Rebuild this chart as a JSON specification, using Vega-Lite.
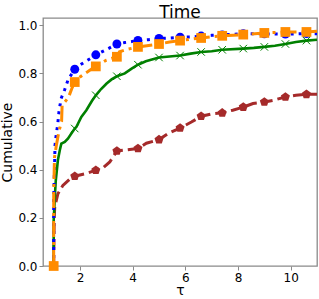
{
  "$schema": "https://vega.github.io/schema/vega-lite/v6.json",
  "width": 274,
  "height": 248,
  "autosize": {"type": "none"},
  "padding": {"left": 43, "top": 18, "right": 2, "bottom": 33},
  "background": "white",
  "config": {
    "view": {"stroke": "#8a8a8a", "strokeWidth": 1.3},
    "font": "DejaVu Sans",
    "axis": {
      "grid": false,
      "domain": false,
      "tickColor": "#8a8a8a",
      "tickSize": 4,
      "tickWidth": 1,
      "labelFont": "DejaVu Sans",
      "labelFontSize": 12,
      "labelColor": "#000000",
      "labelPadding": 2,
      "titleFont": "DejaVu Sans",
      "titleFontSize": 14,
      "titleFontWeight": "normal",
      "titleColor": "#000000"
    },
    "title": {"font": "DejaVu Sans", "fontSize": 17, "fontWeight": "normal", "color": "#000000", "offset": 4, "frame": "group", "baseline": "alphabetic", "dy": 7.5}
  },
  "title": "Time",
  "datasets": {
    "curves": [
      {"series": "blue", "tau": 1.0, "value": 0.0},
      {"series": "blue", "tau": 1.0, "value": 0.28},
      {"series": "blue", "tau": 1.03, "value": 0.4},
      {"series": "blue", "tau": 1.05, "value": 0.5},
      {"series": "blue", "tau": 1.1, "value": 0.55},
      {"series": "blue", "tau": 1.15, "value": 0.585},
      {"series": "blue", "tau": 1.2, "value": 0.64},
      {"series": "blue", "tau": 1.28, "value": 0.695},
      {"series": "blue", "tau": 1.41, "value": 0.73},
      {"series": "blue", "tau": 1.56, "value": 0.778},
      {"series": "blue", "tau": 1.7, "value": 0.8},
      {"series": "blue", "tau": 1.8, "value": 0.817},
      {"series": "blue", "tau": 2.0, "value": 0.835},
      {"series": "blue", "tau": 2.19, "value": 0.848},
      {"series": "blue", "tau": 2.4, "value": 0.862},
      {"series": "blue", "tau": 2.6, "value": 0.877},
      {"series": "blue", "tau": 2.95, "value": 0.896},
      {"series": "blue", "tau": 3.2, "value": 0.91},
      {"series": "blue", "tau": 3.4, "value": 0.922},
      {"series": "blue", "tau": 3.7, "value": 0.928},
      {"series": "blue", "tau": 3.96, "value": 0.932},
      {"series": "blue", "tau": 4.2, "value": 0.937},
      {"series": "blue", "tau": 4.6, "value": 0.94},
      {"series": "blue", "tau": 5.0, "value": 0.945},
      {"series": "blue", "tau": 5.4, "value": 0.947},
      {"series": "blue", "tau": 5.8, "value": 0.95},
      {"series": "blue", "tau": 6.3, "value": 0.952},
      {"series": "blue", "tau": 6.6, "value": 0.955},
      {"series": "blue", "tau": 7.0, "value": 0.958},
      {"series": "blue", "tau": 7.4, "value": 0.96},
      {"series": "blue", "tau": 8.2, "value": 0.965},
      {"series": "blue", "tau": 9.0, "value": 0.964},
      {"series": "blue", "tau": 9.8, "value": 0.963},
      {"series": "blue", "tau": 10.6, "value": 0.965},
      {"series": "blue", "tau": 11.0, "value": 0.965},

      {"series": "orange", "tau": 1.0, "value": 0.0},
      {"series": "orange", "tau": 1.0, "value": 0.3},
      {"series": "orange", "tau": 1.03, "value": 0.45},
      {"series": "orange", "tau": 1.1, "value": 0.5},
      {"series": "orange", "tau": 1.2, "value": 0.56},
      {"series": "orange", "tau": 1.3, "value": 0.6},
      {"series": "orange", "tau": 1.32, "value": 0.667},
      {"series": "orange", "tau": 1.56, "value": 0.7},
      {"series": "orange", "tau": 1.7, "value": 0.74},
      {"series": "orange", "tau": 1.8, "value": 0.764},
      {"series": "orange", "tau": 2.0, "value": 0.785},
      {"series": "orange", "tau": 2.19, "value": 0.8},
      {"series": "orange", "tau": 2.4, "value": 0.815},
      {"series": "orange", "tau": 2.6, "value": 0.829},
      {"series": "orange", "tau": 3.0, "value": 0.855},
      {"series": "orange", "tau": 3.4, "value": 0.869},
      {"series": "orange", "tau": 3.5, "value": 0.89},
      {"series": "orange", "tau": 3.8, "value": 0.9},
      {"series": "orange", "tau": 4.2, "value": 0.91},
      {"series": "orange", "tau": 5.0, "value": 0.922},
      {"series": "orange", "tau": 5.4, "value": 0.93},
      {"series": "orange", "tau": 5.8, "value": 0.936},
      {"series": "orange", "tau": 6.2, "value": 0.942},
      {"series": "orange", "tau": 6.6, "value": 0.947},
      {"series": "orange", "tau": 7.4, "value": 0.956},
      {"series": "orange", "tau": 8.2, "value": 0.961},
      {"series": "orange", "tau": 9.0, "value": 0.968},
      {"series": "orange", "tau": 9.8, "value": 0.972},
      {"series": "orange", "tau": 10.6, "value": 0.972},
      {"series": "orange", "tau": 11.0, "value": 0.975},

      {"series": "green", "tau": 1.0, "value": 0.0},
      {"series": "green", "tau": 1.0, "value": 0.19},
      {"series": "green", "tau": 1.05, "value": 0.3},
      {"series": "green", "tau": 1.08, "value": 0.356},
      {"series": "green", "tau": 1.16, "value": 0.44},
      {"series": "green", "tau": 1.23, "value": 0.48},
      {"series": "green", "tau": 1.29, "value": 0.508},
      {"series": "green", "tau": 1.42, "value": 0.515},
      {"series": "green", "tau": 1.54, "value": 0.529},
      {"series": "green", "tau": 1.67, "value": 0.55},
      {"series": "green", "tau": 1.8, "value": 0.571},
      {"series": "green", "tau": 1.86, "value": 0.577},
      {"series": "green", "tau": 2.05, "value": 0.619},
      {"series": "green", "tau": 2.24, "value": 0.647},
      {"series": "green", "tau": 2.45, "value": 0.685},
      {"series": "green", "tau": 2.6, "value": 0.709},
      {"series": "green", "tau": 2.8, "value": 0.735},
      {"series": "green", "tau": 3.01, "value": 0.758},
      {"series": "green", "tau": 3.2, "value": 0.775},
      {"series": "green", "tau": 3.4, "value": 0.788},
      {"series": "green", "tau": 3.7, "value": 0.8},
      {"series": "green", "tau": 3.96, "value": 0.82},
      {"series": "green", "tau": 4.2, "value": 0.836},
      {"series": "green", "tau": 4.5, "value": 0.85},
      {"series": "green", "tau": 5.0, "value": 0.866},
      {"series": "green", "tau": 5.4, "value": 0.87},
      {"series": "green", "tau": 5.8, "value": 0.874},
      {"series": "green", "tau": 6.2, "value": 0.882},
      {"series": "green", "tau": 6.6, "value": 0.889},
      {"series": "green", "tau": 7.0, "value": 0.892},
      {"series": "green", "tau": 7.4, "value": 0.898},
      {"series": "green", "tau": 8.2, "value": 0.903},
      {"series": "green", "tau": 8.6, "value": 0.906},
      {"series": "green", "tau": 9.0, "value": 0.91},
      {"series": "green", "tau": 9.4, "value": 0.915},
      {"series": "green", "tau": 9.8, "value": 0.922},
      {"series": "green", "tau": 10.2, "value": 0.93},
      {"series": "green", "tau": 10.6, "value": 0.936},
      {"series": "green", "tau": 11.0, "value": 0.94},

      {"series": "brown", "tau": 1.0, "value": 0.0},
      {"series": "brown", "tau": 1.02, "value": 0.2},
      {"series": "brown", "tau": 1.04, "value": 0.245},
      {"series": "brown", "tau": 1.16, "value": 0.3},
      {"series": "brown", "tau": 1.35, "value": 0.335},
      {"series": "brown", "tau": 1.6, "value": 0.36},
      {"series": "brown", "tau": 1.8, "value": 0.373},
      {"series": "brown", "tau": 2.24, "value": 0.384},
      {"series": "brown", "tau": 2.6, "value": 0.398},
      {"series": "brown", "tau": 2.9, "value": 0.41},
      {"series": "brown", "tau": 3.13, "value": 0.432},
      {"series": "brown", "tau": 3.4, "value": 0.478},
      {"series": "brown", "tau": 3.89, "value": 0.484},
      {"series": "brown", "tau": 4.2, "value": 0.488},
      {"series": "brown", "tau": 4.52, "value": 0.51},
      {"series": "brown", "tau": 5.0, "value": 0.525},
      {"series": "brown", "tau": 5.34, "value": 0.55},
      {"series": "brown", "tau": 5.8, "value": 0.573},
      {"series": "brown", "tau": 6.23, "value": 0.598},
      {"series": "brown", "tau": 6.6, "value": 0.622},
      {"series": "brown", "tau": 7.05, "value": 0.633},
      {"series": "brown", "tau": 7.4, "value": 0.636},
      {"series": "brown", "tau": 7.8, "value": 0.647},
      {"series": "brown", "tau": 8.2, "value": 0.66},
      {"series": "brown", "tau": 8.57, "value": 0.675},
      {"series": "brown", "tau": 9.0, "value": 0.681},
      {"series": "brown", "tau": 9.33, "value": 0.688},
      {"series": "brown", "tau": 9.8, "value": 0.702},
      {"series": "brown", "tau": 10.2, "value": 0.709},
      {"series": "brown", "tau": 10.6, "value": 0.713},
      {"series": "brown", "tau": 11.0, "value": 0.713}
    ],
    "markers": [
      {"series": "blue", "tau": 1.8, "value": 0.817},
      {"series": "blue", "tau": 2.6, "value": 0.877},
      {"series": "blue", "tau": 3.4, "value": 0.922},
      {"series": "blue", "tau": 4.2, "value": 0.937},
      {"series": "blue", "tau": 5.0, "value": 0.945},
      {"series": "blue", "tau": 5.8, "value": 0.95},
      {"series": "blue", "tau": 6.6, "value": 0.955},
      {"series": "blue", "tau": 7.4, "value": 0.96},
      {"series": "blue", "tau": 8.2, "value": 0.965},
      {"series": "blue", "tau": 9.0, "value": 0.964},
      {"series": "blue", "tau": 9.8, "value": 0.963},
      {"series": "blue", "tau": 10.6, "value": 0.965},
      {"series": "orange", "tau": 1.0, "value": 0.0},
      {"series": "orange", "tau": 1.8, "value": 0.764},
      {"series": "orange", "tau": 2.6, "value": 0.829},
      {"series": "orange", "tau": 3.4, "value": 0.869},
      {"series": "orange", "tau": 4.2, "value": 0.91},
      {"series": "orange", "tau": 5.0, "value": 0.922},
      {"series": "orange", "tau": 5.8, "value": 0.936},
      {"series": "orange", "tau": 6.6, "value": 0.947},
      {"series": "orange", "tau": 7.4, "value": 0.956},
      {"series": "orange", "tau": 8.2, "value": 0.961},
      {"series": "orange", "tau": 9.0, "value": 0.968},
      {"series": "orange", "tau": 9.8, "value": 0.972},
      {"series": "orange", "tau": 10.6, "value": 0.972},
      {"series": "green", "tau": 1.8, "value": 0.571},
      {"series": "green", "tau": 2.6, "value": 0.709},
      {"series": "green", "tau": 3.4, "value": 0.788},
      {"series": "green", "tau": 4.2, "value": 0.836},
      {"series": "green", "tau": 5.0, "value": 0.866},
      {"series": "green", "tau": 5.8, "value": 0.874},
      {"series": "green", "tau": 6.6, "value": 0.889},
      {"series": "green", "tau": 7.4, "value": 0.898},
      {"series": "green", "tau": 8.2, "value": 0.903},
      {"series": "green", "tau": 9.0, "value": 0.91},
      {"series": "green", "tau": 9.8, "value": 0.922},
      {"series": "green", "tau": 10.6, "value": 0.936},
      {"series": "brown", "tau": 1.8, "value": 0.373},
      {"series": "brown", "tau": 2.6, "value": 0.398},
      {"series": "brown", "tau": 3.4, "value": 0.478},
      {"series": "brown", "tau": 4.2, "value": 0.488},
      {"series": "brown", "tau": 5.0, "value": 0.525},
      {"series": "brown", "tau": 5.8, "value": 0.573},
      {"series": "brown", "tau": 6.6, "value": 0.622},
      {"series": "brown", "tau": 7.4, "value": 0.636},
      {"series": "brown", "tau": 8.2, "value": 0.66},
      {"series": "brown", "tau": 9.0, "value": 0.681},
      {"series": "brown", "tau": 9.8, "value": 0.702},
      {"series": "brown", "tau": 10.6, "value": 0.713}
    ]
  },
  "encoding": {
    "x": {
      "field": "tau", "type": "quantitative",
      "scale": {"domain": [0.594, 11.0], "nice": false, "zero": false},
      "axis": {"values": [2, 4, 6, 8, 10], "title": "τ", "titlePadding": 0}
    },
    "y": {
      "field": "value", "type": "quantitative",
      "scale": {"domain": [0, 1.03], "nice": false},
      "axis": {"values": [0, 0.2, 0.4, 0.6, 0.8, 1.0], "format": ".1f", "title": "Cumulative", "titlePadding": 3}
    }
  },
  "layer": [
    {
      "data": {"name": "curves"},
      "transform": [{"filter": "datum.series === 'brown'"}],
      "mark": {"type": "line", "color": "#a52a2a", "strokeWidth": 3, "strokeDash": [11, 5], "clip": true}
    },
    {
      "data": {"name": "markers"},
      "transform": [{"filter": "datum.series === 'brown'"}],
      "mark": {"type": "point", "shape": "M0,-1L0.951,-0.309L0.588,0.809L-0.588,0.809L-0.951,-0.309Z", "filled": true, "color": "#a52a2a", "size": 90, "opacity": 1}
    },
    {
      "data": {"name": "curves"},
      "transform": [{"filter": "datum.series === 'green'"}],
      "mark": {"type": "line", "color": "#008000", "strokeWidth": 2.6, "clip": true}
    },
    {
      "data": {"name": "markers"},
      "transform": [{"filter": "datum.series === 'green'"}],
      "mark": {"type": "point", "shape": "M-1,-1L1,1M-1,1L1,-1", "filled": false, "color": "#008000", "size": 56, "strokeWidth": 1, "opacity": 1}
    },
    {
      "data": {"name": "curves"},
      "transform": [{"filter": "datum.series === 'blue'"}],
      "mark": {"type": "line", "color": "#0000ff", "strokeWidth": 3, "strokeDash": [3, 5], "clip": true}
    },
    {
      "data": {"name": "markers"},
      "transform": [{"filter": "datum.series === 'blue'"}],
      "mark": {"type": "point", "shape": "circle", "filled": true, "color": "#0000ff", "size": 80, "opacity": 1}
    },
    {
      "data": {"name": "curves"},
      "transform": [{"filter": "datum.series === 'orange'"}],
      "mark": {"type": "line", "color": "#ff8c00", "strokeWidth": 3, "strokeDash": [16, 5, 3, 5], "clip": true}
    },
    {
      "data": {"name": "markers"},
      "transform": [{"filter": "datum.series === 'orange'"}],
      "mark": {"type": "point", "shape": "square", "filled": true, "color": "#ff8c00", "size": 95, "opacity": 1}
    }
  ]
}
